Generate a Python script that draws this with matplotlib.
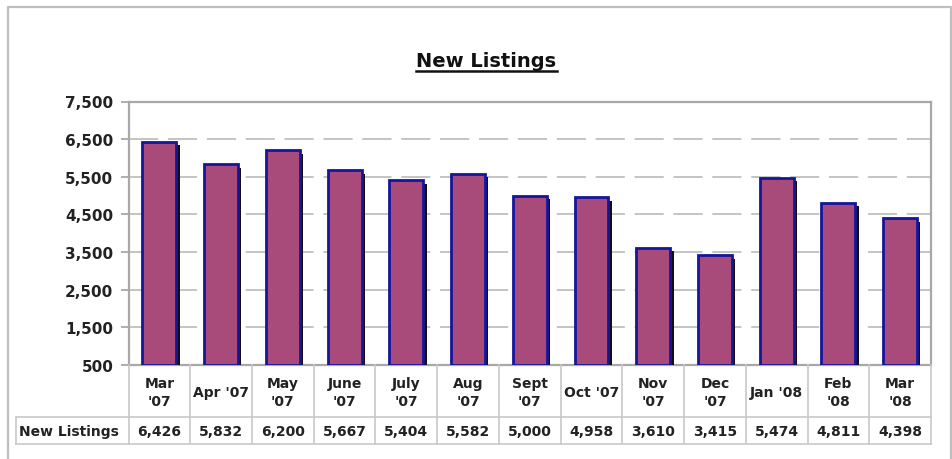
import matplotlib
matplotlib.use("Agg")
import matplotlib.pyplot as plt
import matplotlib.patheffects as pe
from matplotlib.lines import Line2D

plt.rcParams['font.family'] = ['DejaVu Sans']

categories = ["Mar\n'07", "Apr '07", "May\n'07", "June\n'07", "July\n'07", "Aug\n'07",
              "Sept\n'07", "Oct '07", "Nov\n'07", "Dec\n'07", "Jan '08", "Feb\n'08", "Mar\n'08"]
values = [6426, 5832, 6200, 5667, 5404, 5582, 5000, 4958, 3610, 3415, 5474, 4811, 4398]
series_name = "New Listings"
yticks = [500, 1500, 2500, 3500, 4500, 5500, 6500, 7500]
title = "New Listings"

W, H = 953, 460
fig = plt.figure(figsize=(W / 100, H / 100), dpi=100)
fig.patch.set_facecolor('white')

# plot area in pixels
L, R, T, B = 128.5, 931, 102.5, 366
ax = fig.add_axes([L / W, (H - B) / H, (R - L) / W, (B - T) / H])

x = list(range(len(values)))
bars = ax.bar(x, [v - yticks[0] for v in values], bottom=yticks[0], width=0.55,
              color='#A84A7A', edgecolor='#16169A', linewidth=2.0, zorder=3)
for b in bars:
    b.set_path_effects([pe.SimplePatchShadow(offset=(2.4, -2.4), shadow_rgbFace='#101010', alpha=1.0),
                        pe.Normal()])

ax.set_xlim(-0.5, len(values) - 0.5)
ax.set_ylim(yticks[0], yticks[-1])
ax.set_yticks(yticks)
ax.set_yticklabels([f"{t:,}" for t in yticks], fontsize=11, fontweight='bold', color='#222222')
ax.set_xticks([])
ax.tick_params(axis='y', length=6, width=1.2, color='#A0A0A0', pad=5)
for t in yticks[1:-1]:
    ax.axhline(t, color='#C4C4C4', linewidth=1.4, dashes=(15, 5), zorder=1)
for s in ax.spines.values():
    s.set_color('#A8A8A8')
    s.set_linewidth(1.6)


def fx(px):
    return px / W


def fy(py):
    return 1 - py / H


# title
fig.text(fx(486.5), fy(67.3), title, ha='center', va='baseline', fontsize=14,
         fontweight='bold', color='#111111')
fig.add_artist(Line2D([fx(416), fx(557)], [fy(71.5), fy(71.5)],
                      color='#111111', linewidth=1.8))

# data table
col_w = (R - L) / len(values)
row1_bot = 418
row2_bot = 445
lab_left = 16
gc = '#C8C8C8'

for i in range(len(values) + 1):
    xp = L + i * col_w
    fig.add_artist(Line2D([fx(xp), fx(xp)], [fy(B), fy(row2_bot)], color=gc, linewidth=1.2))
fig.add_artist(Line2D([fx(lab_left), fx(lab_left)], [fy(row1_bot), fy(row2_bot)], color=gc, linewidth=1.2))
for yp in (row1_bot, row2_bot):
    fig.add_artist(Line2D([fx(lab_left), fx(R)], [fy(yp), fy(yp)], color=gc, linewidth=1.2))

for i, (c, v) in enumerate(zip(categories, values)):
    xc = L + (i + 0.5) * col_w
    fig.text(fx(xc), fy((B + row1_bot) / 2 + 1), c, ha='center', va='center', fontsize=10,
             fontweight='bold', color='#222222', linespacing=1.3)
    fig.text(fx(xc), fy((row1_bot + row2_bot) / 2 + 1), f"{v:,}", ha='center', va='center',
             fontsize=10, fontweight='bold', color='#222222')
fig.text(fx(19), fy((row1_bot + row2_bot) / 2 + 1), series_name, ha='left', va='center',
         fontsize=10, fontweight='bold', color='#222222')

# outer chart frame
fig.add_artist(Line2D([fx(8), fx(8), fx(951), fx(951)], [fy(470), fy(7.5), fy(7.5), fy(470)],
                      color='#BEBEBE', linewidth=1.6))

fig.savefig('out.png', dpi=100, facecolor='white')
